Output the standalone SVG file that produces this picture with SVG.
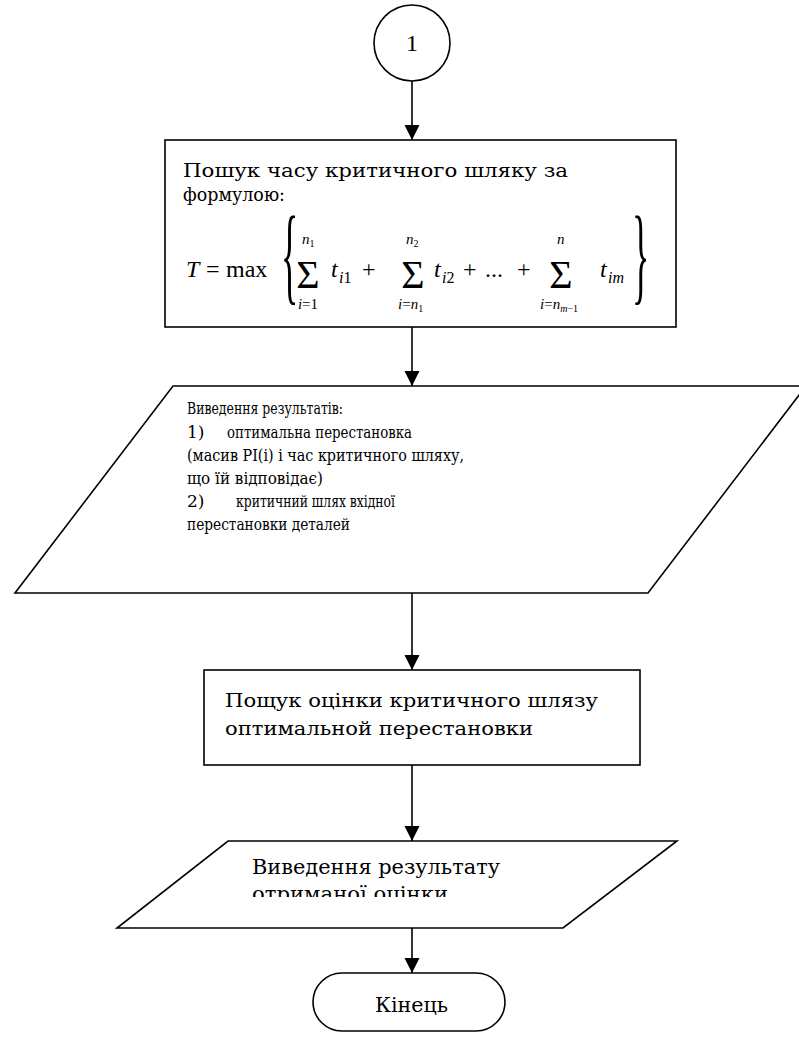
<svg xmlns="http://www.w3.org/2000/svg" width="799" height="1037" viewBox="0 0 799 1037">
<style>
.s{fill:#fff;stroke:#000;stroke-width:1.6}
.t{font-family:"DejaVu Serif","Liberation Serif","Times New Roman",serif;fill:#000}
.m{font-family:"Liberation Serif","DejaVu Serif","Times New Roman",serif;fill:#000;font-size:24px}
.i{font-style:italic}
.m.lim{font-size:15px}
.m.sub{font-size:16px}
.m.big{font-size:40px}
.m.br{font-size:36px}
.c{stroke:#000;stroke-width:1.6;fill:none}
</style>
<defs>
<marker id="ah" markerUnits="userSpaceOnUse" markerWidth="16" markerHeight="16" viewBox="0 0 16 16" refX="15" refY="8" orient="auto">
<path d="M0,0.5 L15,8 L0,15.5 Z" fill="#000"/>
</marker>
<clipPath id="clipOut"><rect x="100" y="841" width="600" height="56"/></clipPath>
</defs>

<g id="connectors">
<line class="c" x1="412" y1="81" x2="412" y2="140" marker-end="url(#ah)"/>
<line class="c" x1="412" y1="327" x2="412" y2="386" marker-end="url(#ah)"/>
<line class="c" x1="412" y1="593" x2="412" y2="670" marker-end="url(#ah)"/>
<line class="c" x1="412" y1="765" x2="412" y2="841" marker-end="url(#ah)"/>
<line class="c" x1="412" y1="928" x2="412" y2="973" marker-end="url(#ah)"/>
</g>

<g id="connector1">
<circle class="s" cx="412" cy="43" r="38"/>
<text class="m" x="412" y="51" text-anchor="middle">1</text>
</g>

<g id="process1">
<rect class="s" x="165" y="140" width="511" height="187"/>
<text class="t" x="183" y="177" font-size="19" textLength="385" lengthAdjust="spacingAndGlyphs">Пошук часу критичного шляку за</text>
<text class="t" x="183" y="201" font-size="19" textLength="102" lengthAdjust="spacingAndGlyphs">формулою:</text>
<g id="formula">
<text class="m i" x="186" y="277">T</text>
<text class="m" x="206" y="277">=</text>
<text class="m" x="226" y="277">max</text>
<text class="m br" transform="translate(281,291) scale(1,3)">{</text>
<text class="m big" x="308" y="288" text-anchor="middle">Σ</text>
<text class="m lim i" x="302" y="244">n<tspan font-size="10" font-style="normal" dy="3">1</tspan></text>
<text class="m lim" x="308" y="309" text-anchor="middle"><tspan font-style="italic">i</tspan>=1</text>
<text class="m i" x="331" y="277">t</text>
<text class="m sub" x="339" y="283"><tspan font-style="italic">i</tspan>1</text>
<text class="m" x="362" y="277">+</text>
<text class="m big" x="413" y="288" text-anchor="middle">Σ</text>
<text class="m lim i" x="406" y="244">n<tspan font-size="10" font-style="normal" dy="3">2</tspan></text>
<text class="m lim" x="398" y="309"><tspan font-style="italic">i</tspan>=<tspan font-style="italic">n</tspan><tspan font-size="10" dy="3">1</tspan></text>
<text class="m i" x="434" y="277">t</text>
<text class="m sub" x="442" y="283"><tspan font-style="italic">i</tspan>2</text>
<text class="m" x="463" y="277">+</text>
<text class="m" x="485" y="277">...</text>
<text class="m" x="517" y="277">+</text>
<text class="m big" x="561" y="288" text-anchor="middle">Σ</text>
<text class="m lim i" x="557" y="244">n</text>
<text class="m lim" x="540" y="309"><tspan font-style="italic">i</tspan>=<tspan font-style="italic">n</tspan><tspan font-size="10" dy="3"><tspan font-style="italic">m</tspan>−1</tspan></text>
<text class="m i" x="600" y="277">t</text>
<text class="m sub i" x="608" y="283">im</text>
<text class="m br" transform="translate(632,291) scale(1,3)">}</text>
</g>
</g>

<g id="output1">
<polygon class="s" points="173,386 806,386 648,593 15,593"/>
<g class="t" font-size="17">
<text x="187" y="414" textLength="156" lengthAdjust="spacingAndGlyphs">Виведення результатів:</text>
<text x="187" y="438">1)</text>
<text x="227" y="438" textLength="185" lengthAdjust="spacingAndGlyphs">оптимальна перестановка</text>
<text x="187" y="461" textLength="277" lengthAdjust="spacingAndGlyphs">(масив PI(i) і час критичного шляху,</text>
<text x="187" y="484" textLength="136" lengthAdjust="spacingAndGlyphs">що їй відповідає)</text>
<text x="187" y="507">2)</text>
<text x="236" y="507" textLength="159" lengthAdjust="spacingAndGlyphs">критичний шлях вхідної</text>
<text x="187" y="530" textLength="163" lengthAdjust="spacingAndGlyphs">перестановки деталей</text>
</g>
</g>

<g id="process2">
<rect class="s" x="204" y="670" width="436" height="95"/>
<text class="t" x="225" y="707" font-size="19" textLength="373" lengthAdjust="spacingAndGlyphs">Пощук оцінки критичного шлязу</text>
<text class="t" x="225" y="735" font-size="19" textLength="308" lengthAdjust="spacingAndGlyphs">оптимальной перестановки</text>
</g>

<g id="output2">
<polygon class="s" points="228,841 677,841 563,928 117,928"/>
<text class="t" x="252" y="874" font-size="20" textLength="248" lengthAdjust="spacingAndGlyphs">Виведення результату</text>
<text class="t" x="252" y="901" font-size="20" textLength="196" lengthAdjust="spacingAndGlyphs" clip-path="url(#clipOut)">отриманої оцінки</text>
</g>

<g id="terminator">
<rect class="s" x="313" y="973" width="192" height="58" rx="29" ry="29"/>
<text class="t" x="375" y="1012" font-size="20" textLength="73" lengthAdjust="spacingAndGlyphs">Кінець</text>
</g>
</svg>
